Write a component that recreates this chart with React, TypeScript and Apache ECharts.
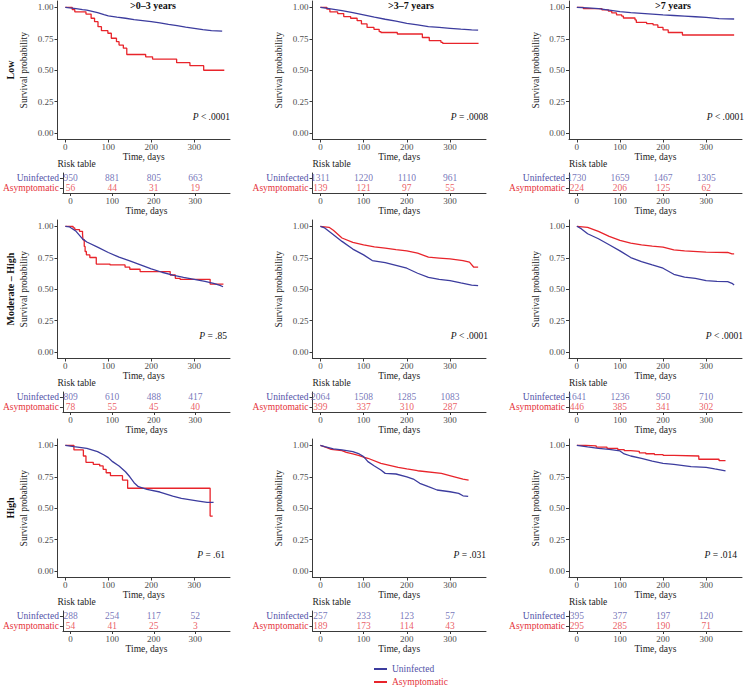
import React, { useEffect, useRef } from 'react';
import * as echarts from 'echarts';

const FONT = "'Liberation Serif', 'Times New Roman', serif";
const BLUE = '#3c3c9e';
const RED = '#e8242b';
const BLUE_TEXT = '#5252a8';
const RED_TEXT = '#e5333a';
const AXIS = '#3a3a3a';
const TICK_TEXT = '#4d4d4d';
const TITLE_TEXT = '#222222';

const timeTicks = [0, 100, 200, 300];
const survTicks = [0, 0.25, 0.5, 0.75, 1];
const rowLabels = ['Low', 'Moderate – High', 'High'];
const colTitles = ['>0–3 years', '>3–7 years', '>7 years'];
const groups = ['Uninfected', 'Asymptomatic'];
const pValues = [
  ['< .0001', '= .0008', '< .0001'],
  ['= .85', '< .0001', '< .0001'],
  ['= .61', '= .031', '= .014'],
];

// Numbers at risk at days 0, 100, 200, 300
const riskUninfected = [
  [[950, 881, 805, 663], [1311, 1220, 1110, 961], [1730, 1659, 1467, 1305]],
  [[809, 610, 488, 417], [2064, 1508, 1285, 1083], [1641, 1236, 950, 710]],
  [[288, 254, 117, 52], [257, 233, 123, 57], [395, 377, 197, 120]],
];
const riskAsymptomatic = [
  [[56, 44, 31, 19], [139, 121, 97, 55], [224, 206, 125, 62]],
  [[78, 55, 45, 40], [399, 337, 310, 287], [446, 385, 341, 302]],
  [[54, 41, 25, 3], [189, 173, 114, 43], [295, 285, 190, 71]],
];

// Kaplan-Meier curves [day, survival]
const lowEarlyUninfected = [[0, 1], [10, 0.995], [25, 0.99], [40, 0.982], [50, 0.977], [60, 0.97], [75, 0.958], [90, 0.942], [100, 0.932], [120, 0.922], [140, 0.913], [160, 0.902], [180, 0.894], [200, 0.886], [220, 0.876], [240, 0.864], [260, 0.854], [280, 0.843], [300, 0.833], [320, 0.822], [340, 0.815], [365, 0.81]];
const lowEarlyAsymptomatic = [[0, 1], [16, 0.982], [22, 0.964], [48, 0.946], [60, 0.913], [68, 0.886], [76, 0.846], [84, 0.814], [99, 0.794], [107, 0.754], [119, 0.727], [125, 0.7], [135, 0.675], [143, 0.625], [187, 0.607], [203, 0.589], [259, 0.56], [290, 0.536], [322, 0.5], [370, 0.5]];
const lowMidUninfected = [[0, 1], [20, 0.99], [50, 0.974], [75, 0.958], [100, 0.94], [125, 0.922], [150, 0.905], [175, 0.89], [200, 0.873], [225, 0.86], [250, 0.847], [275, 0.84], [300, 0.833], [325, 0.826], [350, 0.82], [365, 0.818]];
const lowMidAsymptomatic = [[0, 1], [15, 0.985], [22, 0.963], [40, 0.95], [54, 0.926], [70, 0.913], [85, 0.894], [95, 0.868], [108, 0.84], [124, 0.825], [136, 0.807], [140, 0.8], [178, 0.788], [236, 0.76], [252, 0.735], [279, 0.722], [283, 0.714], [366, 0.714]];
const lowLateUninfected = [[0, 1], [25, 0.995], [50, 0.99], [75, 0.978], [100, 0.966], [125, 0.958], [150, 0.952], [175, 0.946], [200, 0.94], [225, 0.935], [250, 0.93], [275, 0.925], [300, 0.92], [330, 0.91], [365, 0.907]];
const lowLateAsymptomatic = [[0, 1], [15, 0.99], [58, 0.98], [73, 0.97], [81, 0.955], [92, 0.94], [104, 0.93], [108, 0.915], [135, 0.9], [138, 0.88], [162, 0.87], [177, 0.86], [188, 0.84], [200, 0.82], [212, 0.8], [245, 0.78], [365, 0.78]];

const modEarlyUninfected = [[0, 1], [10, 0.995], [25, 0.96], [40, 0.9], [50, 0.875], [75, 0.835], [100, 0.792], [125, 0.755], [150, 0.725], [175, 0.693], [200, 0.661], [225, 0.635], [250, 0.613], [275, 0.595], [300, 0.579], [325, 0.562], [345, 0.547], [360, 0.53], [367, 0.52]];
const modEarlyAsymptomatic = [[0, 1], [18, 0.987], [22, 0.974], [33, 0.96], [40, 0.94], [41, 0.893], [44, 0.84], [46, 0.8], [49, 0.773], [57, 0.752], [72, 0.7], [104, 0.693], [139, 0.675], [150, 0.659], [174, 0.64], [244, 0.613], [256, 0.587], [267, 0.579], [337, 0.541], [368, 0.541]];
const modMidUninfected = [[0, 1], [10, 0.987], [25, 0.947], [50, 0.88], [75, 0.819], [100, 0.773], [120, 0.728], [150, 0.712], [175, 0.69], [200, 0.667], [225, 0.627], [250, 0.595], [275, 0.579], [300, 0.568], [325, 0.55], [350, 0.533], [365, 0.528]];
const modMidAsymptomatic = [[0, 1], [20, 0.992], [30, 0.968], [50, 0.907], [75, 0.872], [100, 0.853], [125, 0.837], [150, 0.827], [175, 0.815], [200, 0.805], [225, 0.787], [250, 0.755], [275, 0.748], [300, 0.741], [330, 0.728], [345, 0.715], [355, 0.675], [365, 0.675]];
const modLateUninfected = [[0, 1], [10, 0.981], [25, 0.941], [50, 0.901], [75, 0.853], [100, 0.805], [125, 0.752], [150, 0.72], [175, 0.693], [200, 0.667], [225, 0.619], [250, 0.597], [275, 0.587], [300, 0.568], [325, 0.563], [350, 0.56], [360, 0.547], [365, 0.533]];
const modLateAsymptomatic = [[0, 1], [25, 0.992], [50, 0.96], [75, 0.92], [100, 0.888], [125, 0.867], [150, 0.853], [175, 0.843], [200, 0.835], [225, 0.813], [250, 0.805], [300, 0.795], [350, 0.792], [360, 0.781], [365, 0.781]];

const highEarlyUninfected = [[0, 1], [20, 0.989], [50, 0.976], [75, 0.95], [90, 0.923], [100, 0.902], [110, 0.87], [125, 0.836], [140, 0.79], [150, 0.75], [160, 0.703], [170, 0.671], [190, 0.65], [220, 0.629], [250, 0.597], [270, 0.578], [310, 0.557], [330, 0.546], [345, 0.546]];
const highEarlyAsymptomatic = [[0, 1], [20, 0.963], [42, 0.915], [48, 0.865], [65, 0.849], [80, 0.836], [88, 0.809], [95, 0.782], [105, 0.759], [133, 0.724], [145, 0.659], [337, 0.438], [343, 0.438]];
const highMidUninfected = [[0, 1], [10, 0.989], [30, 0.971], [50, 0.963], [75, 0.95], [90, 0.931], [100, 0.91], [110, 0.87], [125, 0.836], [140, 0.804], [150, 0.777], [175, 0.772], [200, 0.75], [215, 0.732], [230, 0.698], [250, 0.671], [270, 0.645], [300, 0.631], [320, 0.618], [330, 0.599], [342, 0.594]];
const highMidAsymptomatic = [[0, 1], [15, 0.981], [25, 0.968], [50, 0.958], [60, 0.944], [75, 0.931], [90, 0.918], [100, 0.905], [110, 0.897], [140, 0.857], [160, 0.841], [180, 0.825], [200, 0.812], [225, 0.798], [280, 0.777], [310, 0.75], [330, 0.732], [343, 0.724]];
const highLateUninfected = [[0, 1], [25, 0.987], [50, 0.976], [75, 0.968], [100, 0.955], [110, 0.931], [125, 0.915], [150, 0.897], [175, 0.875], [200, 0.857], [225, 0.849], [265, 0.83], [300, 0.825], [320, 0.812], [345, 0.796]];
const highLateAsymptomatic = [[0, 1], [20, 0.995], [45, 0.985], [70, 0.975], [95, 0.965], [110, 0.957], [125, 0.952], [145, 0.94], [160, 0.933], [180, 0.926], [200, 0.92], [225, 0.915], [283, 0.889], [330, 0.878], [345, 0.878]];

const curves = [
  [[lowEarlyUninfected, lowEarlyAsymptomatic], [lowMidUninfected, lowMidAsymptomatic], [lowLateUninfected, lowLateAsymptomatic]],
  [[modEarlyUninfected, modEarlyAsymptomatic], [modMidUninfected, modMidAsymptomatic], [modLateUninfected, modLateAsymptomatic]],
  [[highEarlyUninfected, highEarlyAsymptomatic], [highMidUninfected, highMidAsymptomatic], [highLateUninfected, highLateAsymptomatic]],
];
// which curves are drawn as visible steps (few subjects)
const stepped = [
  [[false, true], [false, true], [false, true]],
  [[false, true], [false, false], [false, false]],
  [[false, true], [false, false], [false, true]],
];

// layout
const colLeft = [57.5, 312.5, 569];
const colWidth = [172.5, 173.5, 173];
const rowTop = [1, 220, 439];
const KM_H = 138.5;
const RISK_OFF = 172;
const RISK_H = 20;
const titleX = [153, 411, 673];
const pRight = [[230, 488, 744], [227, 488, 743], [225, 486, 737]];
const X_MIN = -18.25;
const X_MAX = 383.25;

function buildOption() {
  const grid: any[] = [];
  const xAxis: any[] = [];
  const yAxis: any[] = [];
  const series: any[] = [];
  const graphic: any[] = [];
  const axisLine = { show: true, onZero: false, lineStyle: { color: AXIS, width: 1 } };
  const tickStyle = { color: AXIS, width: 1 };
  const labelBase = { fontSize: 9, color: TICK_TEXT, fontFamily: FONT };
  const nameStyle = { fontSize: 9.5, color: TITLE_TEXT, fontFamily: FONT };

  for (let r = 0; r < 3; r++) {
    for (let c = 0; c < 3; c++) {
      const idx = r * 3 + c;
      const kmI = idx * 2;
      const rkI = idx * 2 + 1;
      grid.push({ left: colLeft[c], width: colWidth[c], top: rowTop[r], height: KM_H });
      grid.push({ left: colLeft[c], width: colWidth[c], top: rowTop[r] + RISK_OFF, height: RISK_H });
      const xCommon = {
        type: 'value', min: X_MIN, max: X_MAX,
        axisLine,
        axisTick: { show: true, length: 3, customValues: timeTicks, lineStyle: tickStyle },
        axisLabel: { ...labelBase, customValues: timeTicks, margin: 3 },
        splitLine: { show: false },
        name: 'Time, days', nameLocation: 'middle', nameGap: 12, nameTextStyle: nameStyle,
      };
      xAxis.push({ ...xCommon, gridIndex: kmI });
      xAxis.push({ ...xCommon, gridIndex: rkI });
      yAxis.push({
        gridIndex: kmI, type: 'value', min: -0.05, max: 1.05,
        axisLine,
        axisTick: { show: true, length: 3, customValues: survTicks, lineStyle: tickStyle },
        axisLabel: { ...labelBase, customValues: survTicks, margin: 4, formatter: (v: number) => v.toFixed(2) },
        splitLine: { show: false },
        name: 'Survival probability', nameLocation: 'middle', nameRotate: 90, nameGap: 28.5, nameTextStyle: nameStyle,
      });
      yAxis.push({
        gridIndex: rkI, type: 'category', data: ['Asymptomatic', 'Uninfected'],
        axisLine,
        axisTick: { show: true, length: 3, alignWithLabel: true, interval: 0, lineStyle: tickStyle },
        axisLabel: {
          margin: 4, interval: 0, hideOverlap: false,
          formatter: (v: string) => (v === 'Uninfected' ? '{u|Uninfected}' : '{a|Asymptomatic}'),
          rich: {
            u: { color: BLUE_TEXT, fontSize: 9.5, fontFamily: FONT, lineHeight: 9 },
            a: { color: RED_TEXT, fontSize: 9.5, fontFamily: FONT, lineHeight: 9 },
          },
        },
        splitLine: { show: false },
      });
      // KM curves
      for (let g = 0; g < 2; g++) {
        const color = g === 0 ? BLUE : RED;
        series.push({
          type: 'line', name: groups[g], xAxisIndex: kmI, yAxisIndex: kmI,
          data: curves[r][c][g], step: stepped[r][c][g] ? 'end' : false,
          showSymbol: false, symbol: 'none', silent: true,
          lineStyle: { color, width: 1.3 }, itemStyle: { color },
          z: g === 0 ? 3 : 2,
        });
        const counts = g === 0 ? riskUninfected[r][c] : riskAsymptomatic[r][c];
        series.push({
          type: 'scatter', name: 'risk-' + groups[g], xAxisIndex: rkI, yAxisIndex: rkI,
          symbolSize: 0, silent: true,
          data: timeTicks.map((t, i) => [t, groups[g], counts[i]]),
          label: {
            show: true, position: 'inside', formatter: (p: any) => String(p.value[2]),
            color: g === 0 ? BLUE_TEXT : RED_TEXT, fontSize: 9.5, fontFamily: FONT,
          },
        });
      }
      // p-value
      graphic.push({
        type: 'text', x: pRight[r][c], y: rowTop[r] + 116,
        style: {
          text: '{i|P} ' + pValues[r][c], align: 'right', verticalAlign: 'middle',
          fontSize: 9.5, fontFamily: FONT, fill: '#111',
          rich: { i: { fontStyle: 'italic', fontSize: 9.5, fontFamily: FONT, fill: '#111' } },
        },
      });
      // risk table label
      graphic.push({
        type: 'text', x: colLeft[c], y: rowTop[r] + 163,
        style: { text: 'Risk table', align: 'left', verticalAlign: 'middle', fontSize: 9.5, fontFamily: FONT, fill: TITLE_TEXT },
      });
    }
    graphic.push({
      type: 'text', x: 10, y: rowTop[r] + 69, rotation: Math.PI / 2,
      style: { text: rowLabels[r], align: 'center', verticalAlign: 'middle', fontSize: 10, fontWeight: 'bold', fontFamily: FONT, fill: '#111' },
    });
  }
  for (let c = 0; c < 3; c++) {
    graphic.push({
      type: 'text', x: titleX[c], y: 5,
      style: { text: colTitles[c], align: 'center', verticalAlign: 'middle', fontSize: 10, fontWeight: 'bold', fontFamily: FONT, fill: '#111' },
    });
  }

  return {
    animation: false,
    backgroundColor: '#ffffff',
    textStyle: { fontFamily: FONT },
    grid, xAxis, yAxis, series, graphic,
    legend: {
      data: [
        { name: 'Uninfected', textStyle: { color: BLUE_TEXT } },
        { name: 'Asymptomatic', textStyle: { color: RED_TEXT } },
      ],
      orient: 'vertical', left: 374, top: 664, padding: 0, icon: 'rect',
      itemWidth: 13, itemHeight: 2, itemGap: 3,
      textStyle: { fontSize: 9.5, fontFamily: FONT, lineHeight: 10 },
      selectedMode: false,
    },
  };
}

export default function App() {
  const ref = useRef<HTMLDivElement>(null);
  useEffect(() => {
    if (!ref.current) return;
    const chart = echarts.init(ref.current, undefined, { renderer: 'svg' });
    chart.setOption(buildOption() as any);
    return () => chart.dispose();
  }, []);
  return (
    <div
      ref={ref}
      style={{ position: 'absolute', left: 0, top: 0, width: 745, height: 688, background: '#fff' }}
    />
  );
}
